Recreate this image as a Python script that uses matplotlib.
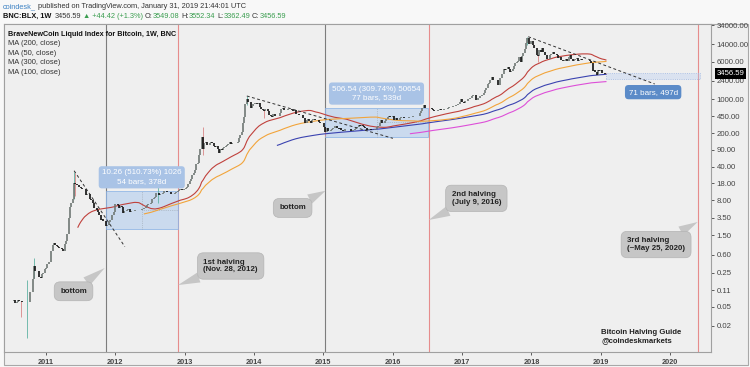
import numpy as np
import pandas as pd
import matplotlib
matplotlib.use('Agg')
import matplotlib.pyplot as plt
import matplotlib.dates as mdates
from matplotlib.patches import Rectangle
from matplotlib.ticker import NullLocator
from matplotlib.transforms import blended_transform_factory

# weekly closes (BNC:BLX, 1W), first bar = week of 2010-07-12
closes_2010 = [0.065, 0.07, 0.06, 0.062, 0.07, 0.066, 0.064, 0.062, 0.062, 0.062, 0.062, 0.062, 0.062,
               0.1, 0.1, 0.19, 0.35, 0.27, 0.28, 0.28, 0.21, 0.2, 0.24, 0.25, 0.3]
closes_2011 = [0.32, 0.39, 0.42, 0.42, 0.72, 0.95, 1.05, 0.95, 0.89, 0.88, 0.84, 0.82, 0.78, 0.72, 0.99,
               1.15, 1.6, 3.4, 5.8, 7.0, 8.4, 18.0, 17.5, 17.0, 16.5, 15.4, 14.8, 13.9, 13.8, 13.5, 10.5,
               11.0, 10.8, 8.6, 8.2, 6.9, 5.6, 5.5, 5.0, 4.7, 4.0, 3.2, 3.3, 3.0, 3.0, 2.3, 2.5, 2.9, 3.1,
               3.2, 3.9, 4.7]
closes_2012 = [6.8, 6.6, 6.3, 5.6, 6.0, 5.7, 4.4, 4.9, 4.9, 5.0, 5.3, 4.7, 4.9, 4.9, 4.9, 5.1, 5.0, 5.0,
               5.0, 5.1, 5.2, 5.3, 5.5, 5.9, 6.4, 6.6, 6.7, 7.0, 8.7, 8.8, 9.4, 11.2, 11.6, 10.2, 10.6,
               11.0, 11.6, 12.3, 12.4, 12.2, 11.8, 11.8, 10.8, 10.8, 10.9, 11.2, 12.2, 12.5, 13.4, 13.5,
               13.3, 13.4, 13.5]
closes_2013 = [14.2, 15.5, 17.5, 20.5, 22.6, 26.9, 29.9, 34.5, 46, 47, 70, 93, 162, 92, 127, 129, 115,
               115, 122, 129, 122, 107, 101, 108, 94, 76, 94, 90, 96, 104, 106, 111, 121, 129, 118, 126,
               124, 124, 123, 128, 154, 180, 205, 320, 430, 790, 1000, 870, 880, 670, 740, 810]
closes_2014 = [850, 830, 810, 830, 690, 630, 600, 580, 630, 630, 580, 480, 440, 420, 500, 440, 440, 440,
               450, 525, 630, 650, 590, 595, 590, 630, 630, 620, 595, 585, 590, 505, 500, 480, 475, 475,
               410, 400, 320, 380, 390, 355, 325, 365, 390, 375, 375, 365, 345, 330, 315, 315]
closes_2015 = [270, 210, 250, 225, 220, 235, 240, 255, 275, 285, 260, 245, 255, 235, 225, 225, 240, 240,
               238, 240, 225, 225, 235, 245, 250, 270, 295, 275, 290, 285, 265, 260, 232, 230, 240, 230,
               232, 235, 240, 245, 270, 285, 330, 375, 330, 325, 360, 390, 435, 440, 420, 430]
closes_2016 = [445, 380, 400, 370, 375, 400, 435, 435, 410, 415, 410, 415, 420, 420, 430, 455, 455, 460,
               455, 445, 530, 575, 670, 760, 660, 660, 650, 665, 655, 625, 590, 570, 580, 575, 605, 625,
               610, 605, 615, 620, 640, 655, 700, 705, 705, 740, 730, 765, 775, 790, 895, 1000]
closes_2017 = [900, 820, 920, 920, 1020, 1000, 1050, 1180, 1230, 1230, 960, 970, 1090, 1190, 1180, 1250,
               1340, 1560, 1720, 2050, 2200, 2500, 2950, 2500, 2500, 2550, 2500, 1950, 2750, 2750, 3400,
               4200, 4100, 4350, 4600, 4200, 3700, 3800, 4350, 4800, 5600, 6000, 6150, 7400, 5900, 8000,
               9300, 11200, 15000, 19000, 13800, 14000]
closes_2018 = [16200, 13600, 11600, 11500, 8200, 8100, 10400, 9600, 11500, 9500, 8200, 8500, 6900, 7000,
               8300, 8900, 9400, 8700, 8600, 8200, 7300, 7700, 6500, 6500, 6200, 6400, 6750, 6350, 7400,
               8200, 7000, 6300, 6400, 6700, 7300, 6200, 6500, 6700, 6600, 6600, 6400, 6500, 6400, 6400,
               6350, 5600, 3800, 4100, 3600, 3200, 4000, 3900, 4050]
closes_2019 = [3550, 3550, 3412.17, 3456.59]
last_open = 3549.08

# a few long wicks that stand out on the chart
wick_dates = ['2010-08-23', '2010-09-27', '2010-11-01', '2011-05-30', '2011-06-06', '2012-08-13',
              '2013-04-08', '2013-11-25', '2014-02-24', '2015-01-12', '2017-12-11', '2018-02-05']
wick_highs = [0.066, 0.18, 0.5, 31.5, 29.0, 15.4, 266, 1163, 600, 270, 19700, 8600]
wick_lows = [0.03, 0.011, 0.2, 8.4, 10.0, 7.1, 70, 750, 400, 170, 13500, 5900]

ma_windows = [200, 50, 300, 100]
ma_colors = ['#3b43b0', '#c0413c', '#dd4fd8', '#f2a43a']

bottom_dates = ['2011-11-14', '2015-01-12']
halving_dates = ['2012-11-28', '2016-07-09', '2020-05-25']

trend_x0 = ['2011-05-31', '2013-11-25', '2017-12-15']
trend_y0 = [33, 1172, 19900]
trend_x1 = ['2012-02-22', '2016-01-03', '2019-10-12']
trend_y1 = [0.876, 155, 2078]

callout_texts = ['bottom', '1st halving\n(Nov. 28, 2012)', 'bottom', '2nd halving\n(July 9, 2016)',
                 '3rd halving\n(~May 25, 2020)']
callout_box = [('2011-05-28', 0.104), ('2013-09-01', 0.348), ('2014-07-24', 5.57), ('2017-03-17', 8.8),
               ('2019-10-19', 0.97)]
callout_tip = [('2011-11-08', 0.316), ('2012-11-28', 0.14), ('2015-01-14', 12.7), ('2016-07-09', 3.13),
               ('2020-05-25', 2.85)]

ranges = [('2011-11-14', '2012-11-26', 2.01, 12.27, '10.26 (510.73%) 1026\n54 bars, 378d'),
          ('2015-01-12', '2016-07-04', 163.54, 670.08, '506.54 (309.74%) 50654\n77 bars, 539d')]
date_range = ('2019-01-28', '2020-06-08', 2650, 3500, '71 bars, 497d')

y_ticks = [34000, 14000, 6000, 2400, 1000, 450, 200, 90, 40, 18, 8, 3.5, 1.5, 0.6, 0.25, 0.11, 0.05, 0.02]
years = list(range(2011, 2021))

W, H = 750, 367
NARROW = ['Liberation Sans Narrow', 'Liberation Sans']
ARIAL = ['Liberation Sans']


def d(s):
    return mdates.date2num(pd.Timestamp(s))


closes = (closes_2010 + closes_2011 + closes_2012 + closes_2013 + closes_2014 + closes_2015
          + closes_2016 + closes_2017 + closes_2018 + closes_2019)
dates = pd.date_range('2010-07-12', periods=len(closes), freq='W-MON')
s = pd.Series(closes, index=dates)
opens = s.shift(1).fillna(s.iloc[0])
opens.iloc[-1] = last_open
x = mdates.date2num(dates.to_pydatetime())
o = opens.values
c = s.values

fig = plt.figure(figsize=(W / 100, H / 100), dpi=100)
fig.patch.set_facecolor('#f8f8f8')
fig.patches.append(Rectangle((4 / W, 2 / H), 744 / W, 341 / H, transform=fig.transFigure,
                             fc='#efefef', ec='#a8a8a8', lw=0.8, zorder=-1))
ax = fig.add_axes([4 / W, 15 / H, 707 / W, 328 / H])
ax.set_facecolor('#efefef')
ax.set_yscale('log')
ax.set_xlim(d('2010-05-27'), d('2020-08-03'))
ax.set_ylim(0.00572, 36520)

# vertical markers
for b in bottom_dates:
    ax.axvline(d(b), color='#7d7d7d', lw=0.8, zorder=1)
for h in halving_dates:
    ax.axvline(d(h), color='#e68c8c', lw=0.8, zorder=1)

# price / date ranges
for x0, x1, lo, hi, label in ranges:
    ax.add_patch(Rectangle((d(x0), lo), d(x1) - d(x0), hi - lo, fc=(0.62, 0.76, 0.93, 0.45),
                           ec=(0.55, 0.70, 0.90, 0.9), lw=0.6, zorder=1.5))
    mid = (d(x0) + d(x1)) / 2
    gm = np.sqrt(lo * hi)
    ax.plot([mid, mid], [lo, hi], color='#9aa4ad', lw=0.5, ls=':', zorder=1.6)
    ax.plot([mid, d(x1)], [gm, gm], color='#9aa4ad', lw=0.5, ls=':', zorder=1.6)
    ax.annotate(label, xy=(mid, hi), xytext=(0, 4.5), textcoords='offset points', ha='center',
                va='bottom', color='white', fontsize=5.8, family=ARIAL, linespacing=1.35, zorder=6,
                bbox=dict(boxstyle='round,pad=0.4', fc='#a9c3e6', ec='none'))

x0, x1, lo, hi, label = date_range
ax.add_patch(Rectangle((d(x0), lo), d(x1) - d(x0), hi - lo, fc=(0.70, 0.80, 0.95, 0.35),
                       ec='#9db6e3', lw=0.6, ls=':', zorder=1.5))
ax.annotate(label, xy=((d(x0) + d(x1)) / 2, lo), xytext=(0, -7), textcoords='offset points',
            ha='center', va='top', color='white', fontsize=5.8, family=ARIAL, zorder=6,
            bbox=dict(boxstyle='round,pad=0.45', fc='#5b8bc8', ec='none'))

# candles
up = c >= o
dn = ~up
wx = np.array([d(w) for w in wick_dates])
wick_up = np.array([c[np.argmin(np.abs(x - v))] >= o[np.argmin(np.abs(x - v))] for v in wx])
ax.vlines(wx[wick_up], np.array(wick_lows)[wick_up], np.array(wick_highs)[wick_up],
          color='#5fb3a3', lw=0.6, zorder=2)
ax.vlines(wx[~wick_up], np.array(wick_lows)[~wick_up], np.array(wick_highs)[~wick_up],
          color='#d98686', lw=0.6, zorder=2)
ax.vlines(x[-1], 3362.49, 3552.34, color='#d98686', lw=0.6, zorder=2)
ax.vlines(x[up], o[up], c[up], color='#6f7874', lw=1.2, zorder=3)
ax.vlines(x[dn], c[dn], o[dn], color='#111111', lw=1.2, zorder=3)

# moving averages
for w, col in zip(ma_windows, ma_colors):
    ma = s.rolling(w).mean()
    ax.plot(x, ma.values, color=col, lw=0.8, zorder=2.5)

# trend lines
for a0, b0, a1, b1 in zip(trend_x0, trend_y0, trend_x1, trend_y1):
    ax.plot([d(a0), d(a1)], [b0, b1], color='#333333', lw=0.7, ls=(0, (3, 2.5)), zorder=4)

# callouts
for text, (bx, by), (tx, ty) in zip(callout_texts, callout_box, callout_tip):
    ax.annotate(text, xy=(d(tx), ty), xytext=(d(bx), by), ha='center', va='center',
                multialignment='left', fontsize=5.7, fontweight='bold', family=ARIAL, color='#222222',
                linespacing=1.1, zorder=7,
                bbox=dict(boxstyle='round,pad=0.75', fc='#c6c6c6', ec='#b4b4b4', lw=0.5),
                arrowprops=dict(arrowstyle='wedge,tail_width=1.3', fc='#c6c6c6', ec='none',
                                shrinkA=0, shrinkB=0))

# axes styling
for sp in ax.spines.values():
    sp.set_color('#a0a0a0')
    sp.set_linewidth(0.8)
ax.yaxis.tick_right()
ax.set_yticks(y_ticks)
ax.set_yticklabels(['%.2f' % t for t in y_ticks])
ax.yaxis.set_minor_locator(NullLocator())
ax.set_xticks([d('%d-01-01' % yr) for yr in years])
ax.set_xticklabels([str(yr) for yr in years])
ax.xaxis.set_minor_locator(NullLocator())
ax.tick_params(axis='y', labelsize=5.6, colors='#444444', length=2.5, width=0.6, pad=1.5)
ax.tick_params(axis='x', labelsize=5.3, colors='#444444', length=2.5, width=0.6, pad=2.5)
for lab in ax.get_yticklabels() + ax.get_xticklabels():
    lab.set_family(NARROW)
for lab in ax.get_xticklabels():
    lab.set_fontweight('bold')

# last price tag
tr = blended_transform_factory(ax.transAxes, ax.transData)
ax.text(1.008, c[-1], '%.2f' % c[-1], transform=tr, ha='left', va='center', fontsize=5.6,
        family=NARROW, color='white', zorder=8, clip_on=False,
        bbox=dict(boxstyle='square,pad=0.25', fc='black', ec='none'))

# text blocks (pixel positions)
renderer = fig.canvas.get_renderer()


def draw_pieces(x_px, y_px, pieces, size):
    xx = x_px
    for text, color, weight, gap in pieces:
        t = fig.text(xx / W, 1 - y_px / H, text, color=color, fontsize=size, fontweight=weight,
                     family=NARROW, va='center', ha='left')
        xx += t.get_window_extent(renderer).width + gap


green = '#3a9d4f'
draw_pieces(3, 6.7, [('coindesk_', '#3f83c4', 'normal', 2),
                     ('published on TradingView.com, January 31, 2019 21:44:01 UTC', '#333333', 'normal', 0)], 5.3)
draw_pieces(3, 16.3, [('BNC:BLX, 1W', '#111111', 'bold', 3), ('3456.59', '#333333', 'normal', 2),
                      ('\u25b2 +44.42 (+1.3%)', green, 'normal', 2), ('O:', '#333333', 'normal', 0),
                      ('3549.08', green, 'normal', 2), ('H:', '#333333', 'normal', 0),
                      ('3552.34', green, 'normal', 2), ('L:', '#333333', 'normal', 0),
                      ('3362.49', green, 'normal', 2), ('C:', '#333333', 'normal', 0),
                      ('3456.59', green, 'normal', 0)], 5.3)

fig.text(8 / W, 1 - 34.3 / H, 'BraveNewCoin Liquid Index for Bitcoin, 1W, BNC', fontsize=5.2,
         fontweight='bold', family=NARROW, color='#111111', va='center')
for i, w in enumerate(ma_windows):
    fig.text(8 / W, 1 - (43.7 + 9.6 * i) / H, 'MA (%d, close)' % w, fontsize=5.4, family=NARROW,
             color='#333333', va='center')

fig.text(601 / W, 1 - 336.5 / H, 'Bitcoin Halving Guide\n@coindeskmarkets', fontsize=5.6,
         fontweight='bold', family=ARIAL, color='#222222', va='center', linespacing=1.05)

fig.savefig('out.png', dpi=100, facecolor=fig.get_facecolor())
